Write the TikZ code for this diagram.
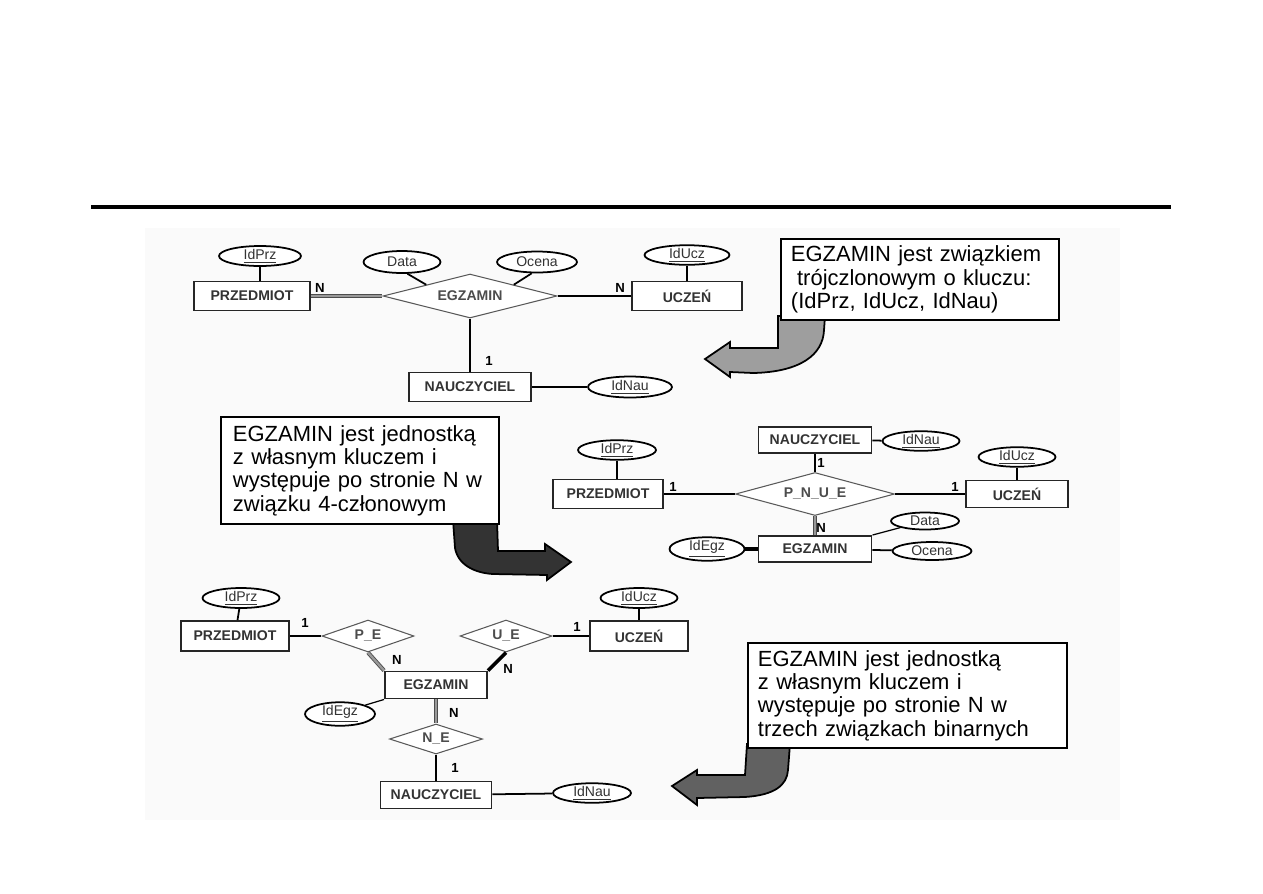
\documentclass[tikz,border=0pt]{standalone}
\usepackage{fontspec}
\setmainfont{Liberation Sans}
\usetikzlibrary{shapes.geometric}
\newcommand{\key}[1]{\underline{#1}}

\begin{document}
\begin{tikzpicture}[x=0.02cm,y=-0.02cm,
  ent/.style={draw=black!85,line width=1.1pt,fill=white,inner sep=0pt,
    font=\fontsize{8}{9}\selectfont\bfseries,text=black!80},
  attr/.style={ellipse,draw,line width=1pt,fill=white,inner sep=0pt,
    font=\fontsize{8}{9}\selectfont,text=black!80},
  rel/.style={diamond,draw=black!65,line width=0.6pt,fill=white,inner sep=0pt,
    shape aspect=4,font=\fontsize{8}{9}\selectfont\bfseries,text=black!70},
  lnk/.style={line width=1pt},
  tot/.style={draw=black!70,double=black!40,double distance=1.3pt,line width=0.5pt},
  card/.style={font=\fontsize{7.5}{8}\selectfont\bfseries},
  note/.style={draw,line width=1.1pt,fill=white,anchor=north west,align=left,
    inner xsep=0.2cm,font=\fontsize{12.5}{13.3}\selectfont},
]
  \useasboundingbox (0,0) rectangle (1263,893);
  \fill[black!2] (145,228) rectangle (1120,820);
  \draw[line width=2.3pt] (91,207) -- (1171,207);

  % arrows
  \draw[line width=1pt,fill=black!38] (778,316) -- (778,348) -- (730,348) -- (730,342)
    -- (705,359) -- (730,377) -- (730,372) -- (753,373)
    .. controls (800,372) and (823,355) .. (824,330) -- (825,316) -- cycle;
  \draw[line width=1pt,fill=black!80] (453,520) -- (455,548)
    .. controls (458,565) and (475,573) .. (493,574) -- (547,575) -- (547,580)
    -- (571,562) -- (545,544) -- (545,551) -- (498,551) -- (497,520) -- cycle;
  \draw[line width=1pt,fill=black!62] (747,744) -- (745,775) -- (697,775) -- (697,770)
    -- (672,786) -- (697,805) -- (697,798) -- (745,797)
    .. controls (775,795) and (787,785) .. (788,770) -- (790,744) -- cycle;

  % ternary relationship
  \node[attr,minimum width=1.64cm,minimum height=0.4cm] (tidprz) at (260,256) {\key{IdPrz}};
  \node[ent,minimum width=2.32cm,minimum height=0.58cm] (tprz) at (252,296) {PRZEDMIOT};
  \node[attr,minimum width=1.54cm,minimum height=0.44cm] (tdata) at (402,262) {Data};
  \node[attr,minimum width=1.6cm,minimum height=0.42cm] (tocena) at (537,262) {Ocena};
  \node[rel,minimum width=3.48cm,minimum height=0.88cm] (tegz) at (470,296) {EGZAMIN};
  \node[attr,minimum width=1.7cm,minimum height=0.38cm] (tiducz) at (687,255) {\key{IdUcz}};
  \node[ent,minimum width=2.2cm,minimum height=0.58cm] (tucz) at (687,296) {UCZEŃ};
  \node[ent,minimum width=2.44cm,minimum height=0.58cm] (tnau) at (470,387) {NAUCZYCIEL};
  \node[attr,minimum width=1.68cm,minimum height=0.42cm] (tidnau) at (630,387) {\key{IdNau}};
  \draw[lnk] (tidprz) -- (tidprz.south |- tprz.north);
  \draw[tot] (tprz) -- (tegz);
  \draw[lnk] (tegz) -- (tucz);
  \draw[lnk] (tdata.-65) -- (tegz.north west);
  \draw[lnk] (tocena.-115) -- (tegz.north east);
  \draw[lnk] (tiducz) -- (tiducz.south |- tucz.north);
  \draw[lnk] (tegz) -- (tnau);
  \draw[lnk] (tnau) -- (tidnau);
  \node[card] (tn1) at (320,288) {N};
  \node[card] (tn2) at (620,288) {N};
  \node[card] (t1) at (489,361) {1};

  \node[note,text width=5.16cm,minimum height=1.62cm] (note1) at (780,238)
    {EGZAMIN jest związkiem\\\hspace*{.28em}trójczlonowym o kluczu:\\(IdPrz, IdUcz, IdNau)};

  % 4-ary relationship
  \node[ent,minimum width=2.26cm,minimum height=0.52cm] (mnau) at (815,440) {NAUCZYCIEL};
  \node[attr,minimum width=1.54cm,minimum height=0.38cm] (midnau) at (921,441) {\key{IdNau}};
  \node[rel,minimum width=3.18cm,minimum height=0.86cm] (mpnue) at (815,494) {P\_N\_U\_E};
  \node[attr,minimum width=1.56cm,minimum height=0.38cm] (midprz) at (617,450) {\key{IdPrz}};
  \node[ent,minimum width=2.2cm,minimum height=0.58cm] (mprz) at (608,494) {PRZEDMIOT};
  \node[attr,minimum width=1.54cm,minimum height=0.36cm] (miducz) at (1017,457) {\key{IdUcz}};
  \node[ent,minimum width=2.04cm,minimum height=0.54cm] (mucz) at (1017,494) {UCZEŃ};
  \node[ent,minimum width=2.26cm,minimum height=0.52cm] (megz) at (815,549) {EGZAMIN};
  \node[attr,minimum width=1.5cm,minimum height=0.36cm] (midegz) at (707,549) {\key{IdEgz}};
  \node[attr,minimum width=1.36cm,minimum height=0.34cm] (mdata) at (925,521) {Data};
  \node[attr,minimum width=1.58cm,minimum height=0.36cm] (mocena) at (932,551) {Ocena};
  \draw[lnk] (mnau) -- (midnau);
  \draw[lnk] (mnau) -- (mpnue);
  \draw[lnk] (midprz) -- (midprz.south |- mprz.north);
  \draw[lnk] (mprz) -- (mpnue);
  \draw[lnk] (mpnue) -- (mucz);
  \draw[lnk] (miducz) -- (mucz);
  \draw[tot] (mpnue) -- (megz);
  \draw[line width=2.4pt] (midegz) -- (megz);
  \draw[lnk,line width=0.7pt] (megz.north east) -- (mdata);
  \draw[lnk] (megz) -- (mocena);
  \node[card] (m1a) at (821,463) {1};
  \node[card] (m1b) at (673,487) {1};
  \node[card] (m1c) at (955,487) {1};
  \node[card] (mn) at (821,528) {N};

  \node[note,inner xsep=0.24cm,text width=5.08cm,minimum height=2.14cm] (note2) at (220,416)
    {EGZAMIN jest jednostką\\z własnym kluczem i\\występuje po stronie N w\\związku 4-członowym};

  % three binary relationships
  \node[attr,minimum width=1.54cm,minimum height=0.4cm] (bidprz) at (241,598) {\key{IdPrz}};
  \node[ent,minimum width=2.16cm,minimum height=0.6cm] (bprz) at (235,636) {PRZEDMIOT};
  \node[rel,minimum width=1.84cm,minimum height=0.64cm] (bpe) at (368,636) {P\_E};
  \node[rel,minimum width=1.84cm,minimum height=0.64cm] (bue) at (506,636) {U\_E};
  \node[ent,minimum width=1.96cm,minimum height=0.6cm] (bucz) at (639,636) {UCZEŃ};
  \node[attr,minimum width=1.54cm,minimum height=0.4cm] (biducz) at (639,598) {\key{IdUcz}};
  \node[ent,minimum width=2.04cm,minimum height=0.54cm] (begz) at (436,685) {EGZAMIN};
  \node[attr,minimum width=1.4cm,minimum height=0.36cm] (bidegz) at (340,714) {\key{IdEgz}};
  \node[rel,minimum width=1.86cm,minimum height=0.6cm] (bne) at (436,739) {N\_E};
  \node[ent,minimum width=2.22cm,minimum height=0.54cm] (bnau) at (436,795) {NAUCZYCIEL};
  \node[attr,minimum width=1.56cm,minimum height=0.38cm] (bidnau) at (592,793) {\key{IdNau}};
  \draw[lnk] (bidprz) -- (bprz);
  \draw[lnk] (bprz) -- (bpe);
  \draw[tot] (bpe.south) -- (begz.north west);
  \draw[line width=2pt] (bue.south) -- (begz.north east);
  \draw[lnk] (bue) -- (bucz);
  \draw[lnk] (biducz) -- (bucz);
  \draw[lnk,line width=0.7pt] (begz.south west) -- (bidegz.north east);
  \draw[tot] (begz) -- (bne);
  \draw[lnk] (bne) -- (bnau);
  \draw[lnk] (bnau) -- (bidnau);
  \node[card] (b1a) at (305,623) {1};
  \node[card] (bna) at (397,660) {N};
  \node[card] (bnb) at (508,669) {N};
  \node[card] (b1b) at (577,627) {1};
  \node[card] (bnc) at (454,713) {N};
  \node[card] (b1c) at (455,768) {1};

  \node[note,text width=5.98cm,minimum height=2.1cm] (note3) at (747,642)
    {EGZAMIN jest jednostką\\z własnym kluczem i\\występuje po stronie N w\\trzech związkach binarnych};
\end{tikzpicture}
\end{document}
